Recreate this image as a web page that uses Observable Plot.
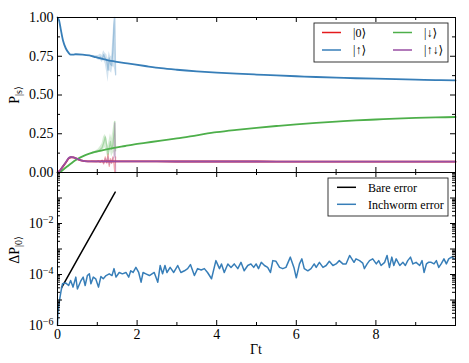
<!DOCTYPE html>
<html><head><meta charset="utf-8">
<script src="https://cdn.jsdelivr.net/npm/d3@7"></script>
<script src="https://cdn.jsdelivr.net/npm/@observablehq/plot@0.6"></script>
<style>
body{margin:0;background:#fff;}
#chart{position:relative;width:469px;height:363px;font-family:"Liberation Serif","DejaVu Serif",serif;}
#chart svg{position:absolute;left:0;overflow:visible;}
#chart svg text{font-family:"Liberation Serif","DejaVu Serif",serif;}
</style></head><body><div id="chart"></div>
<script>
// ---------- data ----------
const stateNames = ["|0⟩", "|↑⟩", "|↓⟩", "|↑↓⟩"];
const stateColors = ["#e41a1c", "#377eb8", "#4daf4a", "#984ea3"];
const errorNames = ["Bare error", "Inchworm error"];
const errorColors = ["#000000", "#377eb8"];

const upT = [0, 0.04, 0.08, 0.14, 0.21, 0.28, 0.33, 0.4, 0.46, 0.63, 0.8, 0.96, 1.13, 1.3, 1.45, 1.7, 1.93, 2.2, 2.6, 3, 3.5, 4, 4.5, 5, 5.5, 6, 6.5, 7, 7.5, 8, 8.5, 9, 9.5, 10];
const upP = [1.0, 0.98, 0.927, 0.85, 0.80, 0.772, 0.760, 0.760, 0.763, 0.761, 0.755, 0.744, 0.733, 0.722, 0.716, 0.706, 0.697, 0.687, 0.673, 0.663, 0.653, 0.645, 0.638, 0.632, 0.626, 0.621, 0.616, 0.612, 0.608, 0.605, 0.602, 0.599, 0.596, 0.594];

const downT = [0, 0.08, 0.17, 0.25, 0.33, 0.45, 0.59, 0.7, 0.84, 1.0, 1.2, 1.42, 1.7, 1.93, 2.2, 2.6, 3, 3.5, 4, 4.5, 5, 5.5, 6, 6.5, 7, 7.5, 8, 8.5, 9, 9.5, 10];
const downP = [0, 0.006, 0.024, 0.04, 0.056, 0.079, 0.099, 0.112, 0.125, 0.136, 0.148, 0.159, 0.171, 0.181, 0.191, 0.206, 0.22, 0.24, 0.26, 0.275, 0.288, 0.3, 0.311, 0.32, 0.328, 0.336, 0.342, 0.348, 0.352, 0.355, 0.358];

const pairT = [0, 0.06, 0.12, 0.21, 0.29, 0.34, 0.4, 0.46, 0.59, 0.76, 1.0, 1.5, 2, 3, 4, 5, 6, 7, 8, 9, 10];
const zeroP = [0, 0.012, 0.033, 0.064, 0.093, 0.098, 0.097, 0.091, 0.078, 0.072, 0.072, 0.072, 0.072, 0.071, 0.071, 0.071, 0.070, 0.070, 0.070, 0.070, 0.070];
const upDownP = [0, 0.012, 0.034, 0.066, 0.095, 0.100, 0.098, 0.092, 0.078, 0.072, 0.072, 0.072, 0.072, 0.071, 0.071, 0.071, 0.070, 0.070, 0.070, 0.070, 0.070];

// bare (diverging) results, drawn light
const bareT = [0.85, 0.92, 0.98, 1.03, 1.08, 1.12, 1.16, 1.2, 1.24, 1.27, 1.3, 1.33, 1.36, 1.39, 1.42, 1.44, 1.46];
const bareUp = [0.752, 0.75, 0.745, 0.74, 0.745, 0.73, 0.76, 0.735, 0.72, 0.66, 0.74, 0.70, 0.69, 0.78, 0.95, 1.0, 0.63];
const bareUpLo = [0.75, 0.745, 0.735, 0.725, 0.725, 0.71, 0.725, 0.70, 0.64, 0.58, 0.66, 0.65, 0.64, 0.68, 0.68, 0.66, 0.63];
const bareUpHi = [0.756, 0.755, 0.755, 0.755, 0.765, 0.755, 0.785, 0.77, 0.76, 0.73, 0.78, 0.75, 0.75, 0.86, 1.0, 1.0, 0.76];
const bareDown = [0.124, 0.128, 0.134, 0.14, 0.15, 0.16, 0.19, 0.23, 0.17, 0.12, 0.16, 0.2, 0.15, 0.18, 0.25, 0.33, 0.14];
const bareDownLo = [0.12, 0.122, 0.125, 0.128, 0.13, 0.135, 0.15, 0.16, 0.12, 0.09, 0.11, 0.14, 0.10, 0.12, 0.13, 0.10, 0.10];
const bareDownHi = [0.128, 0.134, 0.142, 0.152, 0.17, 0.185, 0.23, 0.245, 0.22, 0.17, 0.21, 0.25, 0.22, 0.26, 0.32, 0.33, 0.2];
const bareZero = [0.072, 0.07, 0.07, 0.075, 0.065, 0.08, 0.055, 0.1, 0.06, 0.12, 0.04, 0.09, 0.06, 0.1, 0.05, 0.0, 0.1];
const bareUpDown = [0.072, 0.072, 0.07, 0.072, 0.07, 0.078, 0.06, 0.09, 0.065, 0.1, 0.05, 0.08, 0.06, 0.09, 0.1, 0.32, 0.0];

// errors
const bareErrT = [0.1, 0.5, 1.0, 1.45];
const bareErr = [3.0e-5, 3.9e-4, 9.5e-3, 0.17];

const iwT = [0, 0.01, 0.03, 0.06, 0.09, 0.125, 0.21, 0.28, 0.33, 0.39, 0.46, 0.50, 0.59, 0.645, 0.695, 0.75, 0.80, 0.84, 0.90, 0.96,
  1.03, 1.09, 1.15, 1.22, 1.30, 1.37, 1.42, 1.47, 1.55, 1.63, 1.72, 1.79, 1.84, 1.90, 1.97, 2.04, 2.10, 2.15, 2.22, 2.31,
  2.43, 2.52, 2.58, 2.64, 2.70, 2.75, 2.83, 2.92, 3.02, 3.10, 3.19, 3.27, 3.34, 3.44, 3.52, 3.61, 3.69, 3.77, 3.87, 3.98,
  4.07, 4.12, 4.19, 4.28, 4.36, 4.44, 4.53, 4.61, 4.69, 4.78, 4.86, 4.93, 4.99, 5.05, 5.12, 5.20, 5.28, 5.35, 5.41, 5.49,
  5.58, 5.66, 5.74, 5.85, 5.94, 6.00, 6.08, 6.14, 6.20, 6.29, 6.37, 6.45, 6.50, 6.58, 6.67, 6.75, 6.83, 6.92, 7.00, 7.08,
  7.17, 7.25, 7.34, 7.45, 7.50, 7.59, 7.67, 7.71, 7.78, 7.84, 7.92, 8.01, 8.07, 8.13, 8.22, 8.28, 8.34, 8.40, 8.45, 8.51,
  8.60, 8.68, 8.74, 8.80, 8.87, 8.93, 9.01, 9.10, 9.16, 9.21, 9.27, 9.32, 9.39, 9.46, 9.52, 9.58, 9.64, 9.71, 9.77, 9.83,
  9.90, 9.97];
const iwErr = [1e-6, 3e-6, 6e-6, 1.2e-5, 2.3e-5, 4.3e-5, 4.6e-5, 3.7e-5, 5.8e-5, 3.2e-5, 7.9e-5, 2.7e-5, 5.8e-5, 7.9e-5, 3.7e-5, 9.1e-5, 1.06e-4, 4.3e-5, 7.9e-5, 6.8e-5,
  3.2e-5, 8.3e-5, 6.8e-5, 9.1e-5, 1.06e-4, 9.1e-5, 1.7e-4, 7.9e-5, 1.2e-4, 1.06e-4, 1.2e-4, 7.9e-5, 1.4e-4, 1.2e-4, 1.9e-4, 1.2e-4, 5e-5, 1.2e-4, 1.06e-4, 9.1e-5,
  1.2e-4, 5e-5, 2.25e-4, 1.06e-4, 2.25e-4, 1.2e-4, 1.9e-4, 1.2e-4, 2.25e-4, 1.2e-4, 1.4e-4, 1.7e-4, 2.45e-4, 9.1e-5, 1.7e-4, 1.5e-4, 1.7e-4, 1.2e-4, 6.8e-5, 3.5e-4,
  1.7e-4, 2.6e-4, 1.2e-4, 2.6e-4, 1.9e-4, 2.6e-4, 1.7e-4, 3.0e-4, 1.4e-4, 2.25e-4, 2.6e-4, 1.9e-4, 2.6e-4, 1.7e-4, 3.0e-4, 2.25e-4, 1.9e-4, 1.2e-4, 3.5e-4, 3.3e-4,
  1.9e-4, 1.7e-4, 1.9e-4, 4.8e-4, 1.9e-4, 7.4e-5, 2.6e-4, 4.1e-4, 1.7e-4, 1.4e-4, 1.7e-4, 2.6e-4, 1.9e-4, 3.0e-4, 1.9e-4, 2.25e-4, 3.3e-4, 2.25e-4, 2.6e-4, 3.5e-4,
  2.6e-4, 2.6e-4, 5.6e-4, 3.0e-4, 4.1e-4, 3.5e-4, 2.8e-4, 1.7e-4, 2.6e-4, 3.5e-4, 4.1e-4, 2.6e-4, 3.5e-4, 2.25e-4, 3.0e-4, 5.6e-4, 1.9e-4, 4.8e-4, 2.25e-4, 4.1e-4,
  2.25e-4, 3.0e-4, 2.25e-4, 3.5e-4, 4.8e-4, 2.6e-4, 3.0e-4, 2.25e-4, 3.5e-4, 1.2e-4, 2.6e-4, 3.0e-4, 3.0e-4, 2.6e-4, 3.5e-4, 1.9e-4, 2.6e-4, 4.1e-4, 2.6e-4, 4.1e-4,
  4.8e-4, 4.1e-4];

const xMajor = [0, 2, 4, 6, 8];
const xMinor = [1, 3, 5, 7, 9];
const yTopMajor = [0, 0.25, 0.5, 0.75, 1];
const yTopMinor = [0.125, 0.375, 0.625, 0.875];
const yLogLabeled = [1e-6, 1e-4, 1e-2];
const yLogMajor = [1e-6, 1e-5, 1e-4, 1e-3, 1e-2, 1e-1, 1];
const yLogMinor = [];
for (const dec of [1e-6, 1e-5, 1e-4, 1e-3, 1e-2, 1e-1]) for (const m of [2,3,4,5,6,7,8,9]) yLogMinor.push(m * dec);

// ---------- helpers ----------
const zip = (t, v) => t.map((x, i) => ({t: x, v: v[i]}));
const zip3 = (t, lo, hi) => t.map((x, i) => ({t: x, lo: lo[i], hi: hi[i]}));
const font = '"Liberation Serif", "DejaVu Serif", serif';
const W = 469, ML = 57, MR = 14;
const tickFont = 14;

function inwardTicks(h, w, xs, ys, len) {
  return [
    Plot.ruleX(xs, {x: d => d, insetTop: h - len, stroke: "black"}),
    Plot.ruleX(xs, {x: d => d, insetBottom: h - len, stroke: "black"}),
    Plot.ruleY(ys, {y: d => d, insetRight: w - len, stroke: "black"}),
    Plot.ruleY(ys, {y: d => d, insetLeft: w - len, stroke: "black"})
  ];
}

const chart = document.getElementById("chart");

// ---------- top panel ----------
const topH = 172, topMT = 17, topMB = 0;
const topInnerH = topH - topMT - topMB, innerW = W - ML - MR;
const topPlot = Plot.plot({
  width: W, height: topH, marginTop: topMT, marginBottom: topMB, marginLeft: ML, marginRight: MR,
  style: {fontFamily: font, fontSize: tickFont + "px", background: "transparent", color: "black"},
  x: {domain: [0, 10], axis: null},
  y: {domain: [0, 1], axis: null},
  marks: [
    Plot.areaY(zip3(bareT, bareUpLo, bareUpHi), {x: "t", y1: "lo", y2: "hi", fill: stateColors[1], fillOpacity: 0.22}),
    Plot.areaY(zip3(bareT, bareDownLo, bareDownHi), {x: "t", y1: "lo", y2: "hi", fill: stateColors[2], fillOpacity: 0.22}),
    Plot.line(zip(bareT, bareZero), {x: "t", y: "v", stroke: stateColors[0], strokeOpacity: 0.35, strokeWidth: 1.3}),
    Plot.line(zip(bareT, bareUp), {x: "t", y: "v", stroke: stateColors[1], strokeOpacity: 0.35, strokeWidth: 1.3}),
    Plot.line(zip(bareT, bareDown), {x: "t", y: "v", stroke: stateColors[2], strokeOpacity: 0.35, strokeWidth: 1.3}),
    Plot.line(zip(bareT, bareUpDown), {x: "t", y: "v", stroke: stateColors[3], strokeOpacity: 0.35, strokeWidth: 1.3}),
    Plot.line(zip(pairT, zeroP), {x: "t", y: "v", stroke: stateColors[0], strokeWidth: 1.8, curve: "monotone-x"}),
    Plot.line(zip(upT, upP), {x: "t", y: "v", stroke: stateColors[1], strokeWidth: 1.8, curve: "monotone-x"}),
    Plot.line(zip(downT, downP), {x: "t", y: "v", stroke: stateColors[2], strokeWidth: 1.8, curve: "monotone-x"}),
    Plot.line(zip(pairT, upDownP), {x: "t", y: "v", stroke: stateColors[3], strokeWidth: 1.8, curve: "monotone-x"}),
    ...inwardTicks(topInnerH, innerW, xMajor, yTopMajor, 5),
    ...inwardTicks(topInnerH, innerW, xMinor, yTopMinor, 3),
    Plot.axisY({ticks: yTopMajor, tickFormat: d3.format(".2f"), tickSize: 0, tickPadding: 4, label: null, fontSize: tickFont}),
    Plot.frame({stroke: "black", strokeWidth: 1})
  ]
});
topPlot.style.top = "0px";
chart.appendChild(topPlot);

// ---------- bottom panel ----------
const botH = 191, botMT = 0, botMB = 38;
const botInnerH = botH - botMT - botMB;
const botPlot = Plot.plot({
  width: W, height: botH, marginTop: botMT, marginBottom: botMB, marginLeft: ML, marginRight: MR,
  style: {fontFamily: font, fontSize: tickFont + "px", background: "transparent", color: "black"},
  x: {domain: [0, 10], axis: null},
  y: {type: "log", domain: [1e-6, 1], axis: null},
  marks: [
    Plot.line(zip(bareErrT, bareErr), {x: "t", y: "v", stroke: errorColors[0], strokeWidth: 1.5}),
    Plot.line(zip(iwT, iwErr), {x: "t", y: "v", stroke: errorColors[1], strokeWidth: 1.5}),
    ...inwardTicks(botInnerH, innerW, xMajor, yLogMajor, 5),
    ...inwardTicks(botInnerH, innerW, xMinor, yLogMinor, 3),
    Plot.axisY({ticks: yLogLabeled, tickFormat: d => "10^" + Math.round(Math.log10(d)), tickSize: 0, tickPadding: 4, label: null, fontSize: tickFont}),
    Plot.axisX({ticks: xMajor, tickFormat: d => String(d), tickSize: 0, tickPadding: 4, label: null, fontSize: tickFont}),
    Plot.frame({stroke: "black", strokeWidth: 1})
  ]
});
botPlot.style.top = topH + "px";
chart.appendChild(botPlot);

// superscript exponents
d3.select(botPlot).selectAll("text").each(function() {
  const m = /^10\^(-?\d+)$/.exec(this.textContent);
  if (!m) return;
  const el = d3.select(this);
  el.text(null);
  el.append("tspan").text("10");
  el.append("tspan").attr("dy", "-0.45em").attr("font-size", "10px").text(m[1].replace("-", "−"));
});

// axis labels
const topSvg = d3.select(topPlot);
const yl1 = topSvg.append("text").attr("transform", "translate(19,95) rotate(-90)")
  .attr("text-anchor", "middle").attr("font-size", "14px").attr("fill", "black");
yl1.append("tspan").text("P");
yl1.append("tspan").attr("dy", "0.3em").attr("font-size", "10px").text("|s⟩");

const botSvg = d3.select(botPlot);
const yl2 = botSvg.append("text").attr("transform", "translate(19," + (250 - topH) + ") rotate(-90)")
  .attr("text-anchor", "middle").attr("font-size", "14px").attr("fill", "black");
yl2.append("tspan").text("ΔP");
yl2.append("tspan").attr("dy", "0.3em").attr("font-size", "10px").text("|0⟩");

botSvg.append("text").attr("x", 256).attr("y", 182).attr("text-anchor", "middle")
  .attr("font-size", "14px").attr("fill", "black").text("Γt");

// legends
function legend(svg, box, entries) {
  const g = svg.append("g").attr("text-anchor", "start");
  g.append("rect").attr("x", box.x).attr("y", box.y).attr("width", box.w).attr("height", box.h)
    .attr("fill", "white").attr("stroke", "#222").attr("stroke-width", 0.9);
  entries.forEach(e => {
    g.append("line").attr("x1", e.x).attr("x2", e.x + 19).attr("y1", e.y).attr("y2", e.y)
      .attr("stroke", e.color).attr("stroke-width", 1.5);
    g.append("text").attr("x", e.x + 31).attr("y", e.y).attr("dy", "0.35em").attr("text-anchor", "start")
      .attr("font-size", "12px").attr("fill", "black").text(e.name);
  });
}
legend(topSvg, {x: 314, y: 23, w: 134, h: 39}, [
  {name: stateNames[0], color: stateColors[0], x: 322, y: 32.5},
  {name: stateNames[1], color: stateColors[1], x: 322, y: 50},
  {name: stateNames[2], color: stateColors[2], x: 393, y: 32.5},
  {name: stateNames[3], color: stateColors[3], x: 393, y: 50}
]);
legend(botSvg, {x: 328, y: 178 - topH, w: 120, h: 38}, [
  {name: errorNames[0], color: errorColors[0], x: 337, y: 187.3 - topH},
  {name: errorNames[1], color: errorColors[1], x: 337, y: 204.3 - topH}
]);
</script></body></html>
